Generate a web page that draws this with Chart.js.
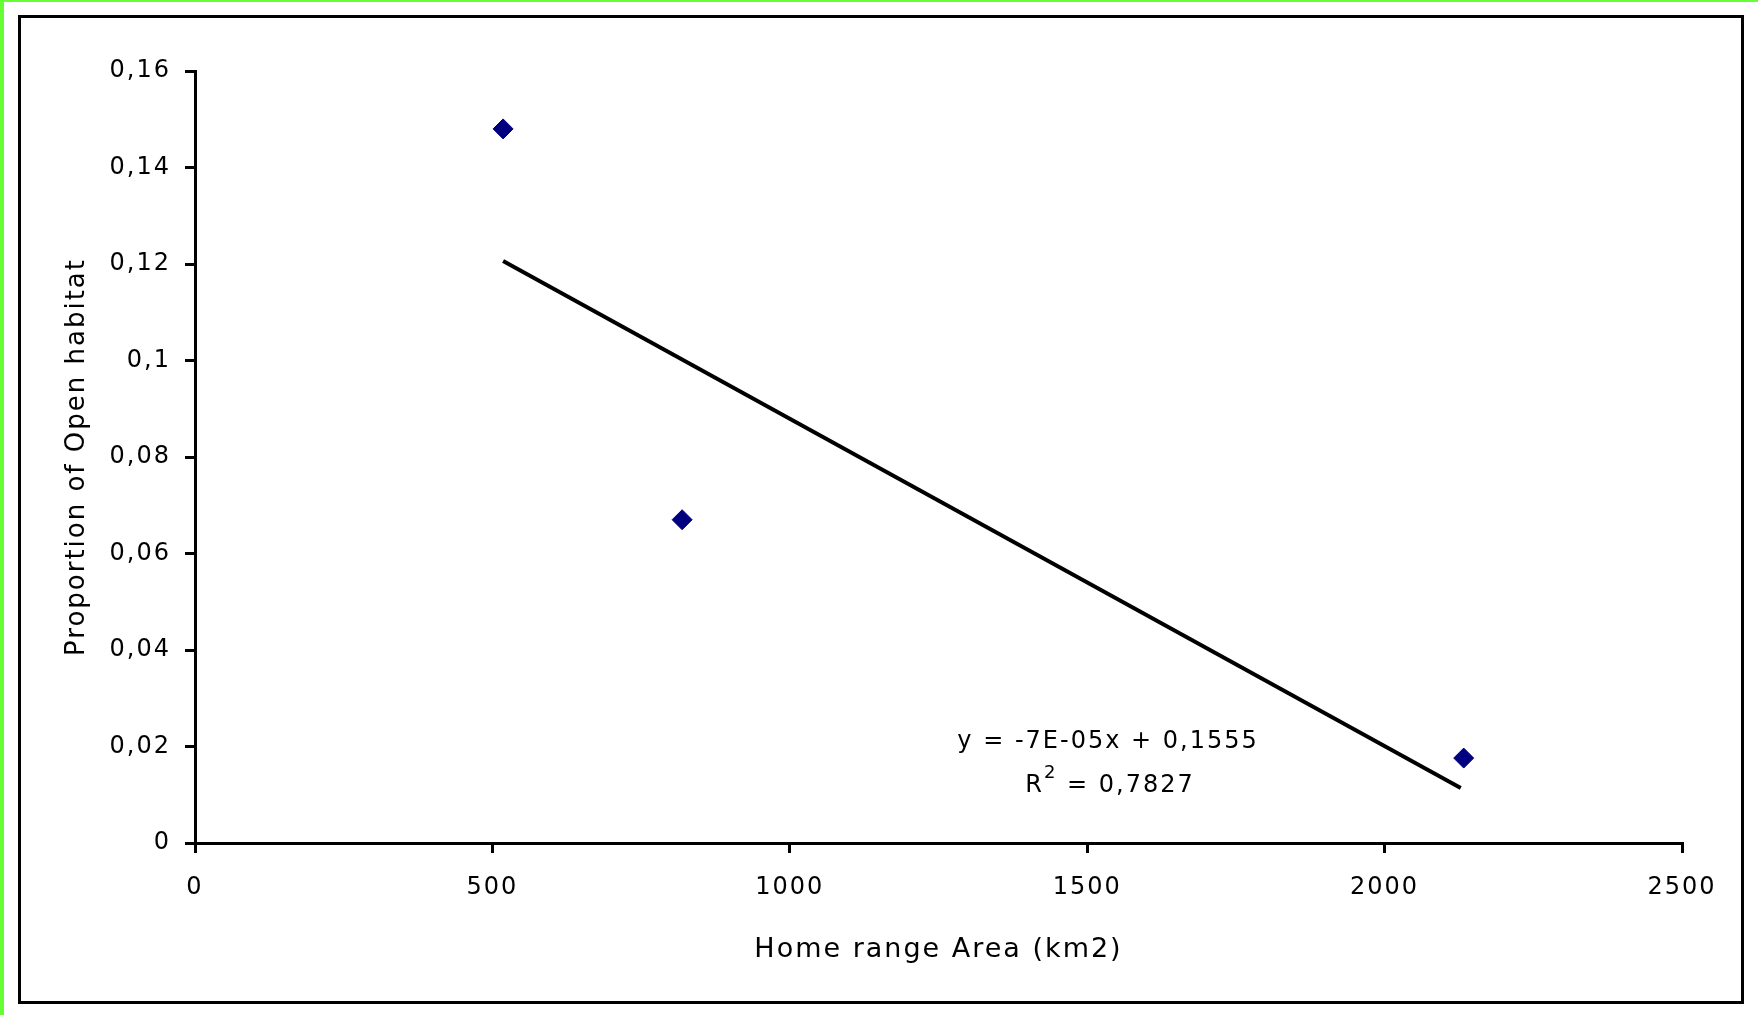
<!DOCTYPE html>
<html>
<head>
<meta charset="utf-8">
<script src="https://cdn.jsdelivr.net/npm/chart.js@4/dist/chart.umd.min.js"></script>
<style>
    html, body { margin: 0; padding: 0; background: #fff; }
    #page { position: relative; width: 1758px; height: 1015px; overflow: hidden; }
    #green { position: absolute; left: 0; top: 0; width: 1758px; height: 1015px;
             border-left: 4px solid #66ff33; border-top: 2px solid #66ff33; box-sizing: border-box; }
    #frame { position: absolute; left: 18px; top: 15px; width: 1726px; height: 989px;
             border: 3px solid #000; box-sizing: border-box; }
    #chart { position: absolute; left: 0; top: 0; }
</style>
</head>
<body>
<div id="page">
    <div id="green"></div>
    <div id="frame"></div>
    <canvas id="chart" width="1758" height="1015"></canvas>
</div>
<script>
// observed points
const areaKm2 = [518, 819, 2133];
const openProp = [0.148, 0.067, 0.0176];

// linear trend line, end points
const trendX = [518, 2128];
const trendY = [0.1206, 0.0114];

// axis ticks
const xMin = 0, xMax = 2500, xStep = 500;
const yMin = 0, yMax = 0.16, yStep = 0.02;

// trend equation label (anchored in data units)
const eqLine1 = 'y = -7E-05x + 0,1555';
const eqR2 = '0,7827';
const eqAt = { x: 1535, y1: 0.0210, y2: 0.0118 };

const FONT = 'DejaVu Sans';

function fmtComma(v) {
    return String(Number(v.toFixed(4))).replace('.', ',');
}

const spacingPlugin = {
    id: 'spacing',
    beforeUpdate(chart) { chart.ctx.letterSpacing = '2px'; },
    beforeDraw(chart) { chart.ctx.letterSpacing = '2px'; }
};

const equationPlugin = {
    id: 'equation',
    afterDatasetsDraw(chart) {
        const ctx = chart.ctx;
        const xs = chart.scales.x, ys = chart.scales.y;
        const cx = xs.getPixelForValue(eqAt.x);
        ctx.save();
        ctx.letterSpacing = '2px';
        ctx.fillStyle = '#000';
        ctx.textBaseline = 'middle';
        ctx.font = '24px "' + FONT + '"';
        ctx.textAlign = 'center';
        ctx.fillText(eqLine1, cx, ys.getPixelForValue(eqAt.y1));

        // R² = ...
        const y2 = ys.getPixelForValue(eqAt.y2);
        const rest = ' = ' + eqR2;
        ctx.textAlign = 'left';
        const wR = ctx.measureText('R').width;
        const wRest = ctx.measureText(rest).width;
        ctx.font = '18px "' + FONT + '"';
        const wSup = ctx.measureText('2').width;
        let x = cx + 2 - (wR + wSup + wRest) / 2;
        ctx.font = '24px "' + FONT + '"';
        ctx.fillText('R', x, y2);
        x += wR;
        ctx.font = '18px "' + FONT + '"';
        ctx.fillText('2', x, y2 - 13);
        x += wSup;
        ctx.font = '24px "' + FONT + '"';
        ctx.fillText(rest, x, y2);
        ctx.restore();
    }
};

const ctx = document.getElementById('chart');
new Chart(ctx, {
    type: 'scatter',
    data: {
        datasets: [{
            label: 'Open habitat',
            data: areaKm2.map((a, i) => ({ x: a, y: openProp[i] })),
            pointStyle: 'rectRot',
            pointRadius: 10,
            pointBackgroundColor: '#000080',
            pointBorderColor: '#000080',
            pointBorderWidth: 1,
            order: 1
        }, {
            label: 'Linear trend',
            type: 'line',
            data: trendX.map((a, i) => ({ x: a, y: trendY[i] })),
            borderColor: '#000',
            borderWidth: 4,
            pointRadius: 0,
            fill: false,
            tension: 0,
            order: 2
        }]
    },
    options: {
        responsive: false,
        animation: false,
        layout: {
            padding: { left: 0, top: 71, right: 76, bottom: 0 }
        },
        plugins: {
            legend: { display: false },
            tooltip: { enabled: false }
        },
        scales: {
            x: {
                type: 'linear',
                min: xMin,
                max: xMax,
                afterFit(scale) { scale.height = 172; },
                ticks: {
                    stepSize: xStep,
                    color: '#000',
                    padding: 20,
                    maxRotation: 0,
                    font: { family: FONT, size: 24 },
                    callback: v => String(v)
                },
                grid: {
                    drawOnChartArea: false,
                    drawTicks: true,
                    tickLength: 10,
                    lineWidth: 3,
                    color: '#000'
                },
                border: { display: true, color: '#000', width: 3 },
                title: {
                    display: true,
                    text: 'Home range Area (km2)',
                    color: '#000',
                    font: { family: FONT, size: 27 },
                    padding: { top: 0, bottom: 49 }
                }
            },
            y: {
                type: 'linear',
                min: yMin,
                max: yMax,
                afterFit(scale) { scale.width = 195; },
                ticks: {
                    stepSize: yStep,
                    color: '#000',
                    padding: 14,
                    font: { family: FONT, size: 24 },
                    callback: v => fmtComma(v)
                },
                grid: {
                    drawOnChartArea: false,
                    drawTicks: true,
                    tickLength: 10,
                    lineWidth: 3,
                    color: '#000'
                },
                border: { display: true, color: '#000', width: 3 },
                title: {
                    display: true,
                    text: 'Proportion of Open habitat',
                    color: '#000',
                    font: { family: FONT, size: 26 },
                    padding: { top: 62, bottom: 0 }
                }
            }
        }
    },
    plugins: [spacingPlugin, equationPlugin]
});
</script>
</body>
</html>
